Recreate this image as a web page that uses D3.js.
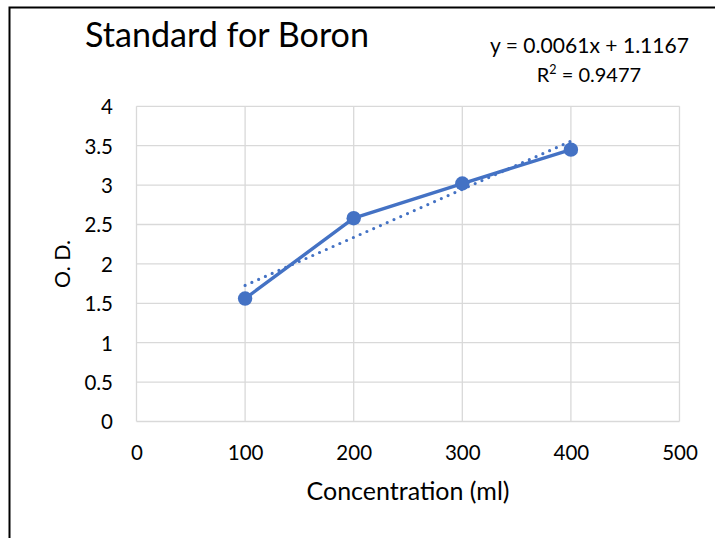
<!DOCTYPE html>
<html>
<head>
<meta charset="utf-8">
<script src="https://cdn.jsdelivr.net/npm/d3@7"></script>
<style>
  html, body { margin: 0; padding: 0; background: #fff; }
  svg { display: block; font-family: Lato, "Open Sans", sans-serif; }
</style>
</head>
<body>
<svg id="chart" width="715" height="538"></svg>
<script>
const concentrations = [100, 200, 300, 400];
const odValues = [1.56, 2.58, 3.02, 3.45];
const trendSlope = [0.0061];
const trendIntercept = [1.1167];
const trendR2 = [0.9477];
const xTicks = [0, 100, 200, 300, 400, 500];
const yTicks = [0, 0.5, 1, 1.5, 2, 2.5, 3, 3.5, 4];

const svg = d3.select("#chart");
const blue = "#4472C4";
const grid = "#D9D9D9";

// scale a text's font size so that it spans the given width
function fitWidth(sel, target) {
  const node = sel.node();
  const fs = parseFloat(sel.attr("font-size"));
  const len = node.getComputedTextLength();
  if (len > 0) sel.attr("font-size", (fs * target / len).toFixed(2));
  return sel;
}

// chart frame (partially visible)
svg.append("path")
  .attr("d", "M9.5,538 L9.5,7.5 L715,7.5")
  .attr("fill", "none").attr("stroke", "#000").attr("stroke-width", 2);

const x = d3.scaleLinear().domain([0, 500]).range([136.5, 679.5]);
const y = d3.scaleLinear().domain([0, 4]).range([421.5, 106.3]);

// gridlines
svg.append("g").selectAll("line").data(yTicks).join("line")
  .attr("x1", x(0)).attr("x2", x(500))
  .attr("y1", d => y(d)).attr("y2", d => y(d))
  .attr("stroke", grid).attr("stroke-width", 1.3);
svg.append("g").selectAll("line").data(xTicks).join("line")
  .attr("y1", y(0)).attr("y2", y(4))
  .attr("x1", d => x(d)).attr("x2", d => x(d))
  .attr("stroke", grid).attr("stroke-width", 1.3);

// axes (labels only)
const xAxis = d3.axisBottom(x).tickValues(xTicks).tickSize(0).tickPadding(0).tickFormat(d3.format("d"));
const gx = svg.append("g").attr("transform", `translate(0,${y(0)})`).call(xAxis);
gx.select(".domain").remove();
gx.selectAll("text").attr("dy", null).attr("y", 38.5)
  .attr("font-size", 20.5).attr("fill", "#000").attr("font-family", "Lato");

const yAxis = d3.axisLeft(y).tickValues(yTicks).tickSize(0).tickPadding(0).tickFormat(d => String(d));
const gy = svg.append("g").attr("transform", `translate(113,0)`).call(yAxis);
gy.select(".domain").remove();
gy.selectAll("text").attr("x", 0).attr("dy", "0.36em")
  .attr("font-size", 20.5).attr("fill", "#000").attr("font-family", "Lato");

// trendline
const tx0 = d3.min(concentrations), tx1 = d3.max(concentrations);
const trend = [tx0, tx1].map(v => [v, trendSlope[0] * v + trendIntercept[0]]);
svg.append("path")
  .datum(trend)
  .attr("d", d3.line().x(d => x(d[0])).y(d => y(d[1])))
  .attr("fill", "none").attr("stroke", blue).attr("stroke-width", 3.2)
  .attr("stroke-linecap", "round").attr("stroke-dasharray", "0 7.4");

// data line
const pts = concentrations.map((c, i) => [c, odValues[i]]);
svg.append("path")
  .datum(pts)
  .attr("d", d3.line().x(d => x(d[0])).y(d => y(d[1])))
  .attr("fill", "none").attr("stroke", blue).attr("stroke-width", 3.4)
  .attr("stroke-linejoin", "round");
svg.append("g").selectAll("circle").data(pts).join("circle")
  .attr("cx", d => x(d[0])).attr("cy", d => y(d[1])).attr("r", 7.2)
  .attr("fill", blue);

// title
fitWidth(svg.append("text").attr("x", 85).attr("y", 47)
  .attr("font-size", 26).attr("fill", "#000").text("Standard for Boron"), 284);

// trendline label
fitWidth(svg.append("text").attr("x", 589.5).attr("y", 53).attr("text-anchor", "middle")
  .attr("font-size", 17.5).attr("fill", "#000")
  .text(`y = ${trendSlope[0]}x + ${trendIntercept[0]}`), 199);
const r2 = svg.append("text").attr("x", 589).attr("y", 82).attr("text-anchor", "middle")
  .attr("font-size", 20).attr("fill", "#000");
r2.append("tspan").text("R");
r2.append("tspan").attr("font-size", 12.5).attr("dy", -8).text("2");
r2.append("tspan").attr("dy", 8).text(` = ${trendR2[0]}`);

// axis titles
fitWidth(svg.append("text").attr("x", x(250)).attr("y", 500).attr("text-anchor", "middle")
  .attr("font-size", 20.5).attr("fill", "#000").text("Concentration (ml)"), 203);
fitWidth(svg.append("text").attr("transform", "translate(70,264) rotate(-90)")
  .attr("text-anchor", "middle").attr("font-size", 20.5).attr("fill", "#000").text("O. D."), 48);
</script>
</body>
</html>
